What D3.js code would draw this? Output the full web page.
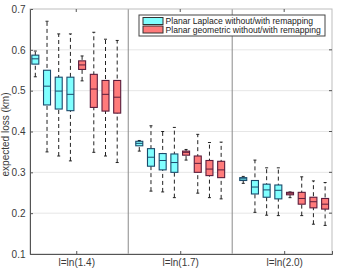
<!DOCTYPE html>
<html>
<head>
<meta charset="utf-8">
<script src="https://cdn.jsdelivr.net/npm/d3@7"></script>
<style>
  body { margin: 0; background: #fff; }
  text { font-family: "Liberation Sans", Arial, sans-serif; }
</style>
</head>
<body>
<div id="chart"></div>
<script>
// data: [lower whisker, q1, median, q3, upper whisker] for each of the 8 boxes in a group
var groupLabels = ["l=ln(1.4)", "l=ln(1.7)", "l=ln(2.0)"];
var seriesNames = ["Planar Laplace without/with remapping", "Planar geometric without/with remapping"];
var yTicks = [0.1, 0.2, 0.3, 0.4, 0.5, 0.6, 0.7];

var statsLn14 = [
  [0.534, 0.565, 0.578, 0.587, 0.597],
  [0.350, 0.465, 0.511, 0.550, 0.670],
  [0.340, 0.455, 0.499, 0.533, 0.639],
  [0.328, 0.451, 0.491, 0.533, 0.639],
  [0.524, 0.552, 0.563, 0.573, 0.585],
  [0.349, 0.459, 0.504, 0.540, 0.643],
  [0.340, 0.450, 0.491, 0.525, 0.626],
  [0.324, 0.445, 0.484, 0.525, 0.623]
];
var statsLn17 = [
  [0.352, 0.365, 0.371, 0.376, 0.378],
  [0.254, 0.315, 0.337, 0.358, 0.414],
  [0.252, 0.306, 0.329, 0.346, 0.400],
  [0.238, 0.300, 0.324, 0.345, 0.410],
  [0.330, 0.342, 0.349, 0.352, 0.356],
  [0.249, 0.300, 0.322, 0.340, 0.393],
  [0.238, 0.292, 0.308, 0.329, 0.373],
  [0.235, 0.287, 0.306, 0.327, 0.374]
];
var statsLn20 = [
  [0.273, 0.280, 0.284, 0.287, 0.290],
  [0.202, 0.247, 0.264, 0.280, 0.330],
  [0.195, 0.239, 0.257, 0.271, 0.311],
  [0.194, 0.235, 0.256, 0.269, 0.311],
  [0.238, 0.245, 0.249, 0.251, 0.252],
  [0.194, 0.222, 0.236, 0.251, 0.289],
  [0.173, 0.213, 0.228, 0.239, 0.279],
  [0.170, 0.210, 0.222, 0.236, 0.275]
];
var allStats = [statsLn14, statsLn17, statsLn20];

var svgWidth = 337, svgHeight = 269;
var plotLeft = 30, plotRight = 332, plotTop = 9, plotBottom = 254;

var fills = ["#80ffff", "#ff7b7b"];
var strokes = ["#1b4a6b", "#5a1d3c"];

var svg = d3.select("#chart").append("svg")
  .attr("width", svgWidth)
  .attr("height", svgHeight);

var x = d3.scaleLinear().domain([0.555, 3.46]).range([plotLeft, plotRight]);
var y = d3.scaleLinear().domain([0.1, 0.7]).range([plotBottom, plotTop]);

// grid
svg.append("g").selectAll("line")
  .data(yTicks.slice(1, -1))
  .enter().append("line")
  .attr("x1", plotLeft).attr("x2", plotRight)
  .attr("y1", d => y(d)).attr("y2", d => y(d))
  .attr("stroke", "#e6e6e6").attr("stroke-width", 1);

// separators between groups
svg.append("g").selectAll("line")
  .data([1.5, 2.5])
  .enter().append("line")
  .attr("x1", d => x(d)).attr("x2", d => x(d))
  .attr("y1", plotTop).attr("y2", plotBottom)
  .attr("stroke", "#8a8a8a").attr("stroke-width", 1);

// frame
svg.append("rect")
  .attr("x", plotLeft).attr("y", plotTop)
  .attr("width", plotRight - plotLeft).attr("height", plotBottom - plotTop)
  .attr("fill", "none").attr("stroke", "#bdbdbd");

// axes
var leftAxis = d3.axisLeft(y).tickValues(yTicks).tickFormat(d3.format(".1f")).tickSize(-3).tickPadding(4.5);
var bottomAxis = d3.axisBottom(x).tickValues([1, 2, 3]).tickFormat((d, i) => groupLabels[i]).tickSize(-3).tickPadding(5);
var gy = svg.append("g").attr("transform", `translate(${plotLeft},0)`).call(leftAxis);
var gx = svg.append("g").attr("transform", `translate(0,${plotBottom})`).call(bottomAxis);
[gy, gx].forEach(function (g) {
  g.select(".domain").attr("stroke", "#555");
  g.selectAll(".tick line").attr("stroke", "#555");
  g.selectAll("text").attr("fill", "#3a3a3a").style("font-size", "10px");
});
gy.selectAll(".tick line").filter(d => d == 0.1 || d == 0.7).remove();

// ticks on top and right borders
svg.append("g").selectAll("line")
  .data([1, 2, 3])
  .enter().append("line")
  .attr("x1", d => x(d)).attr("x2", d => x(d))
  .attr("y1", plotTop).attr("y2", plotTop + 3)
  .attr("stroke", "#555");
svg.append("g").selectAll("line")
  .data(yTicks.slice(1, -1))
  .enter().append("line")
  .attr("x1", plotRight).attr("x2", plotRight - 3)
  .attr("y1", d => y(d)).attr("y2", d => y(d))
  .attr("stroke", "#555");

// y label
svg.append("text")
  .attr("transform", `translate(8.5, ${(plotTop + plotBottom) / 2 + 3}) rotate(-90)`)
  .attr("text-anchor", "middle")
  .attr("fill", "#3a3a3a")
  .style("font-size", "10px")
  .text("expected loss (km)");

// boxes
var boxW = 7, capW = 3;
var boxes = [];
allStats.forEach(function (group, gi) {
  group.forEach(function (s, bi) {
    boxes.push({ pos: gi + 1 + (bi - 3.5) * 0.1125, s: s, kind: bi < 4 ? 0 : 1 });
  });
});

var bg = svg.append("g").selectAll("g")
  .data(boxes)
  .enter().append("g");

bg.append("line")
  .attr("x1", d => x(d.pos)).attr("x2", d => x(d.pos))
  .attr("y1", d => y(d.s[0])).attr("y2", d => y(d.s[4]))
  .attr("stroke", "#222").attr("stroke-dasharray", "4,3");
bg.selectAll(".cap")
  .data(d => [d, d].map((e, k) => ({ pos: e.pos, v: e.s[k * 4] })))
  .enter().append("line")
  .attr("x1", d => x(d.pos) - capW / 2).attr("x2", d => x(d.pos) + capW / 2)
  .attr("y1", d => y(d.v)).attr("y2", d => y(d.v))
  .attr("stroke", "#222");
bg.append("rect")
  .attr("x", d => x(d.pos) - boxW / 2)
  .attr("y", d => y(d.s[3]))
  .attr("width", boxW)
  .attr("height", d => y(d.s[1]) - y(d.s[3]))
  .attr("fill", d => fills[d.kind])
  .attr("stroke", d => strokes[d.kind]).attr("stroke-width", 1.1);
bg.append("line")
  .attr("x1", d => x(d.pos) - boxW / 2).attr("x2", d => x(d.pos) + boxW / 2)
  .attr("y1", d => y(d.s[2])).attr("y2", d => y(d.s[2]))
  .attr("stroke", d => strokes[d.kind]);

// legend
var lg = svg.append("g").attr("transform", "translate(139,15)");
lg.append("rect")
  .attr("width", 186).attr("height", 21)
  .attr("fill", "#fff").attr("stroke", "#444");
seriesNames.forEach(function (name, i) {
  lg.append("rect")
    .attr("x", 4).attr("y", 2.5 + i * 8.5)
    .attr("width", 20).attr("height", 7)
    .attr("fill", fills[i]).attr("stroke", "#333");
  lg.append("text")
    .attr("x", 26.5).attr("y", 8.8 + i * 8.7)
    .attr("fill", "#222")
    .style("font-size", "8.6px")
    .text(name);
});
</script>
</body>
</html>
